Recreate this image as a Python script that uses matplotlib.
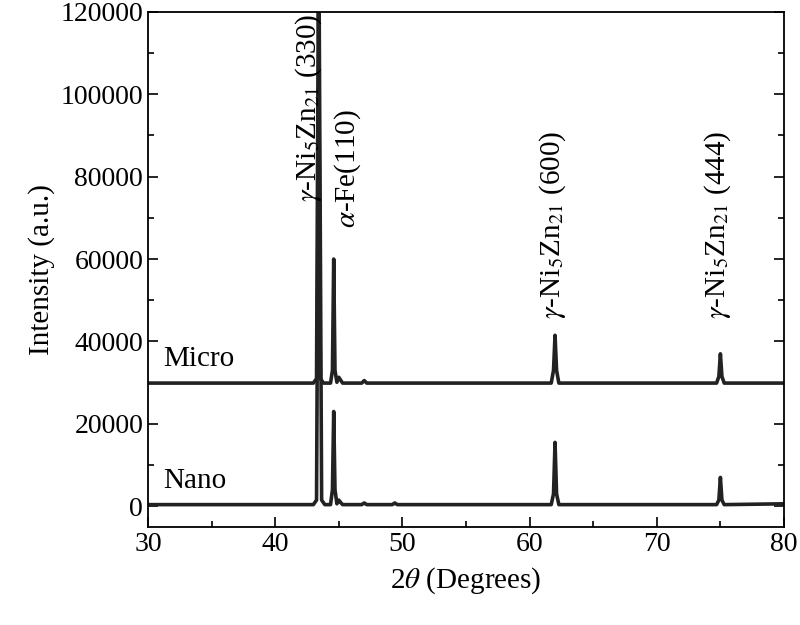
import matplotlib
matplotlib.use("Agg")
import matplotlib.pyplot as plt
from matplotlib.ticker import AutoMinorLocator

plt.rcParams["font.family"] = "Liberation Serif"
plt.rcParams["mathtext.fontset"] = "stix"

# Micro pattern (offset trace), sampled points
micro_x = [30, 43.0, 43.25, 43.4, 43.55, 43.8, 44.35, 44.5, 44.6, 44.7, 44.85, 45.0, 45.15, 45.3,
           46.8, 47.0, 47.2, 61.7, 61.88, 62.0, 62.12, 62.3, 74.7, 74.88, 75.0, 75.12, 75.3, 80]
micro_y = [29900, 29900, 31000, 130000, 31000, 29900, 29900, 33000, 60000, 33000, 30100, 31300, 30600, 29900,
           29900, 30500, 29900, 29900, 33000, 41500, 33000, 29900, 29900, 31500, 37000, 31500, 29900, 29900]

# Nano pattern, sampled points
nano_x = [30, 43.0, 43.25, 43.45, 43.65, 43.9, 44.35, 44.5, 44.6, 44.7, 44.85, 45.0, 45.15, 45.3,
          46.8, 47.0, 47.2, 49.2, 49.4, 49.6, 61.7, 61.88, 62.0, 62.12, 62.3, 74.7, 74.88, 75.0, 75.12, 75.3, 80]
nano_y = [400, 400, 1500, 125000, 1500, 400, 400, 4000, 23000, 4000, 600, 1500, 900, 400,
          400, 800, 400, 400, 800, 400, 400, 3000, 15500, 3000, 400, 400, 1500, 7000, 1500, 400, 600]

xticks = [30, 40, 50, 60, 70, 80]
yticks = [0, 20000, 40000, 60000, 80000, 100000, 120000]

fig = plt.figure(figsize=(8, 6.25), dpi=100)
ax = fig.add_axes([0.185, 0.157, 0.795, 0.824])
ax.plot(micro_x, micro_y, color="#222222", lw=2.6)
ax.plot(nano_x, nano_y, color="#222222", lw=2.6)
ax.set_xlim(30, 80)
ax.set_ylim(-5000, 120000)
ax.set_xticks(xticks)
ax.set_yticks(yticks)
ax.xaxis.set_minor_locator(AutoMinorLocator(2))
ax.yaxis.set_minor_locator(AutoMinorLocator(2))
ax.tick_params(which="both", direction="in", right=True, width=1.2)
ax.tick_params(which="major", labelsize=20, length=7)
ax.tick_params(which="minor", length=4)
for s in ax.spines.values():
    s.set_linewidth(1.3)
ax.set_xlabel(r"2$\theta$ (Degrees)", fontsize=21, labelpad=6)
ax.set_ylabel("Intensity (a.u.)", fontsize=21, labelpad=4)

fs = 21
ax.text(42.6, 119500, r"$\gamma$-Ni$_5$Zn$_{21}$ (330)", rotation=90, va="top", ha="center", fontsize=fs)
ax.text(45.7, 67500, r"$\alpha$-Fe(110)", rotation=90, va="bottom", ha="center", fontsize=fs)
ax.text(61.8, 45500, r"$\gamma$-Ni$_5$Zn$_{21}$ (600)", rotation=90, va="bottom", ha="center", fontsize=fs)
ax.text(74.8, 45500, r"$\gamma$-Ni$_5$Zn$_{21}$ (444)", rotation=90, va="bottom", ha="center", fontsize=fs)
ax.text(31.2, 34000, "Micro", fontsize=21)
ax.text(31.2, 4500, "Nano", fontsize=21)

fig.savefig("out.png", dpi=100)
